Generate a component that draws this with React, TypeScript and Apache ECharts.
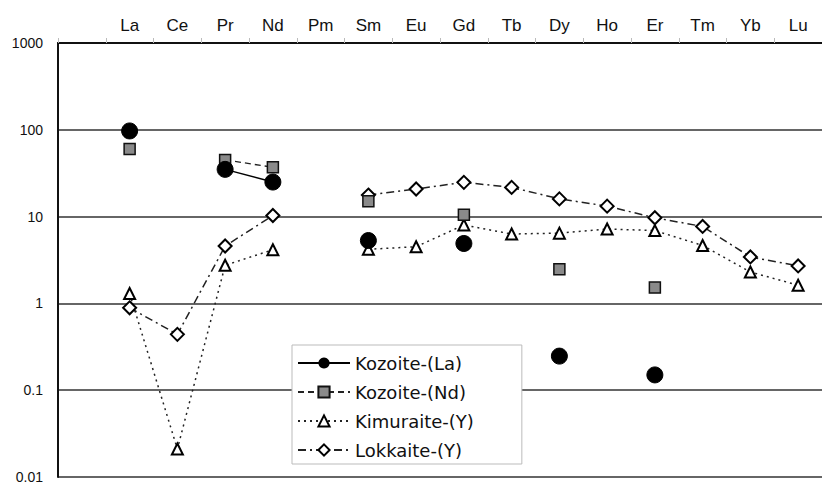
import React, { useEffect, useRef } from "react";
import * as echarts from "echarts";

const elements = ["", "La", "Ce", "Pr", "Nd", "Pm", "Sm", "Eu", "Gd", "Tb", "Dy", "Ho", "Er", "Tm", "Yb", "Lu"];
const yTicks = [0.01, 0.1, 1, 10, 100, 1000];

const kozoiteLa = [97, null, 35, 25, null, 5.3, null, 4.9, null, 0.247, null, 0.15, null, null, null];
const kozoiteNd = [60, null, 45, 37, null, 15, null, 10.5, null, 2.47, null, 1.52, null, null, null];
const kimuraiteY = [1.3, 0.021, 2.75, 4.15, null, 4.2, 4.5, 8.0, 6.3, 6.45, 7.2, 6.9, 4.65, 2.3, 1.62];
const lokkaiteY = [0.89, 0.44, 4.58, 10.3, null, 17.7, 20.8, 24.8, 21.7, 16.0, 13.2, 9.7, 7.7, 3.43, 2.7];

const seriesNames = ["Kozoite-(La)", "Kozoite-(Nd)", "Kimuraite-(Y)", "Lokkaite-(Y)"];

const FONT = "Liberation Sans, Arial, sans-serif";
const LEGEND_FONT = "DejaVu Sans, sans-serif";

export default function App() {
  const ref = useRef<HTMLDivElement>(null);
  useEffect(() => {
    if (!ref.current) return;
    const chart = echarts.init(ref.current, null, { renderer: "svg" });
    const pad = (arr: (number | null)[]) => [null, ...arr];
    chart.setOption({
      animation: false,
      backgroundColor: "#fff",
      grid: { left: 58, top: 43, right: -6, bottom: 4 },
      xAxis: {
        type: "category",
        position: "top",
        data: elements,
        boundaryGap: true,
        axisLine: { lineStyle: { color: "#111", width: 2 } },
        axisTick: { show: true, length: 5, lineStyle: { color: "#bbb" } },
        axisLabel: { fontSize: 17, color: "#111", fontFamily: FONT, margin: 9, interval: 0 },
        splitLine: { show: false },
      },
      yAxis: {
        type: "log",
        logBase: 10,
        min: 0.01,
        max: 1000,
        axisLine: { show: true, lineStyle: { color: "#111", width: 2 } },
        axisTick: { show: false },
        axisLabel: {
          fontSize: 14,
          color: "#111",
          fontFamily: FONT,
          margin: 15,
          formatter: (v: number) => {
            const found = yTicks.find((t) => Math.abs(Math.log10(t) - Math.log10(v)) < 0.01);
            return found !== undefined ? String(found) : "";
          },
        },
        splitLine: { show: true, lineStyle: { color: "#333", width: 1.5 } },
      },
      legend: {
        orient: "vertical",
        left: 292,
        top: 345,
        data: seriesNames,
        backgroundColor: "#fff",
        borderColor: "#bbb",
        borderWidth: 1,
        padding: [9, 48, 5, 5],
        itemWidth: 52,
        itemHeight: 14,
        itemGap: 11,
        textStyle: { fontSize: 18, color: "#111", fontFamily: LEGEND_FONT },
      },
      series: [
        {
          name: seriesNames[0],
          type: "line",
          data: pad(kozoiteLa),
          symbol: "circle",
          symbolSize: 16,
          itemStyle: { color: "#000", borderColor: "#000" },
          lineStyle: { color: "#000", width: 1.5, type: "solid" },
          connectNulls: false,
          z: 5,
        },
        {
          name: seriesNames[1],
          type: "line",
          data: pad(kozoiteNd),
          symbol: "rect",
          symbolSize: 11,
          itemStyle: { color: "#8a8a8a", borderColor: "#111", borderWidth: 1.5 },
          lineStyle: { color: "#222", width: 1.3, type: [6, 4] },
          connectNulls: false,
          z: 4,
        },
        {
          name: seriesNames[2],
          type: "line",
          data: pad(kimuraiteY),
          symbol: "triangle",
          symbolSize: 11,
          itemStyle: { color: "#fff", borderColor: "#000", borderWidth: 2 },
          lineStyle: { color: "#222", width: 1.5, type: [2, 4] },
          connectNulls: false,
          z: 3,
        },
        {
          name: seriesNames[3],
          type: "line",
          data: pad(lokkaiteY),
          symbol: "diamond",
          symbolSize: 13,
          itemStyle: { color: "#fff", borderColor: "#000", borderWidth: 2 },
          lineStyle: { color: "#222", width: 1.5, type: [8, 4, 2, 4] },
          connectNulls: false,
          z: 3,
        },
      ],
    });
    return () => chart.dispose();
  }, []);
  return <div ref={ref} style={{ width: 822, height: 484, position: "absolute", left: 0, top: 0 }} />;
}
